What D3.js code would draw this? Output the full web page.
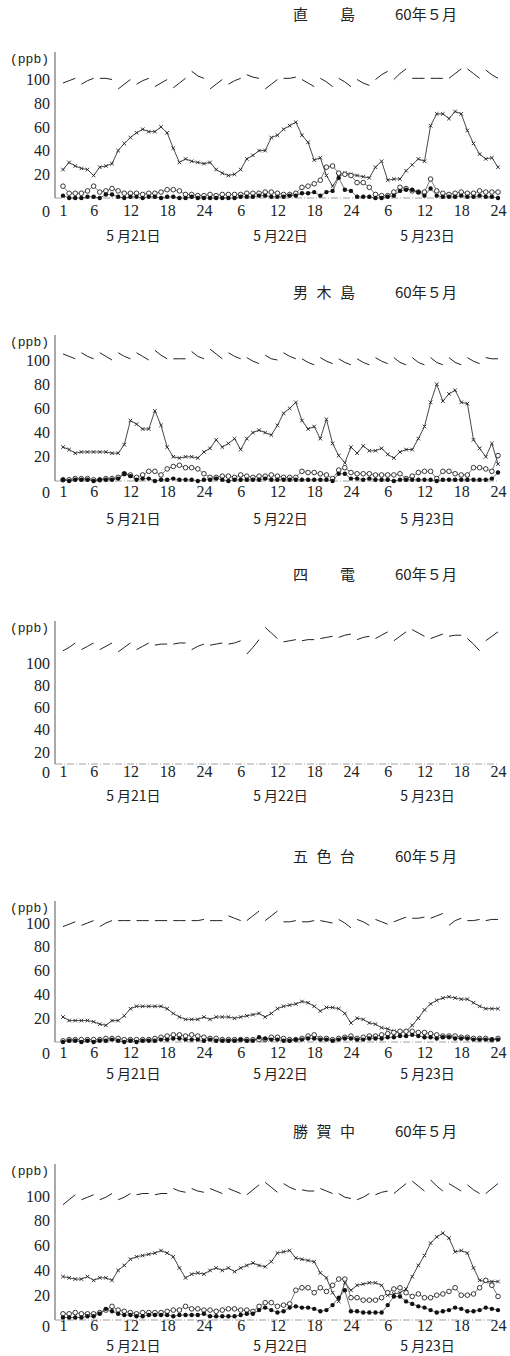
<!DOCTYPE html>
<html>
<head>
<meta charset="utf-8">
<script src="https://cdn.jsdelivr.net/npm/d3@7"></script>
<style>
    body { margin: 0; background: #fff; }
</style>
</head>
<body>
<svg id="chart" width="510" height="1356"></svg>
<script>
// hours of the three days, 5/21 01:00 .. 5/23 24:00
var hours = d3.range(1, 73);
var xTickHours = [1, 6, 12, 18, 24, 30, 36, 42, 48, 54, 60, 66, 72];
var xTickLabels = ["1", "6", "12", "18", "24", "6", "12", "18", "24", "6", "12", "18", "24"];
var yTicks = [20, 40, 60, 80, 100];
var dayLabels = ["5 月21日", "5 月22日", "5 月23日"];
var dayCenters = [12, 36, 60];
var stationNames = ["直島", "男木島", "四電", "五色台", "勝賀中"];
var monthLabel = "60年５月";

// 直島
var oxNao = [24,30,27,25,24,19,26,27,29,40,46,51, 55,58,56,56,60,55,42,30,33,31,30,29,
    30,24,21,19,20,24,33,36,40,40,51,53, 58,61,64,53,47,32,34,19,10,18,21,20,
    19,18,17,26,31,15,16,16,23,28,33,31, 61,71,71,67,73,71,57,46,37,33,34,26];
var no2Nao = [10,4,4,4,6,10,5,6,8,6,4,4, 4,3,4,4,5,7,7,6,3,3,2,2,
    3,2,3,3,3,3,4,4,4,5,5,4, 3,3,4,9,10,12,15,26,27,21,20,19,
    13,13,9,3,2,2,5,9,8,6,5,5, 16,6,4,3,4,5,4,4,6,5,5,5];
var noNao = [2,0,0,0,1,1,0,3,3,1,0,1, 1,0,1,1,0,1,1,0,0,1,0,0,
    0,0,0,0,0,1,1,1,2,2,1,1, 1,2,2,4,4,5,2,5,6,17,7,6,
    1,1,1,0,0,1,2,6,7,7,5,2, 8,2,1,1,1,2,1,1,2,1,1,0];
var topNao = [97,99,101, 96,99,101, 101,101,100, 92,96,100, 96,99,101, 94,97,100, 93,97,101, 107,103,101,
    92,96,100, 96,99,101, 104,102,101, 92,96,100, 101,101,102, 100,97,94, 101,98,94, 101,98,94,
    100,97,95, 100,104,107, 100,105,109, 101,101,101, 101,101,101, 101,105,109, 109,105,101, 108,104,101];

// 男木島
var oxOgi = [28,26,23,24,24,24,24,24,23,23,30,50, 47,43,43,58,46,28,20,19,20,20,19,24,
    27,34,28,31,35,26,35,40,42,40,38,46, 56,60,65,50,43,45,35,51,31,21,15,28,
    23,29,25,25,27,22,19,24,26,26,35,45, 65,80,66,72,75,65,64,34,27,20,31,14];
var no2Ogi = [1,1,2,2,2,1,1,2,2,3,6,5, 3,5,8,8,5,10,12,13,11,11,10,6,
    3,3,4,4,3,5,4,3,4,4,5,4, 3,3,3,8,7,7,6,5,2,9,11,7,
    6,6,6,5,5,5,5,6,2,4,7,8, 8,2,8,8,6,5,5,11,11,10,8,21];
var noOgi = [1,0,1,1,1,0,1,1,1,2,6,4, 1,2,2,0,1,1,2,1,1,1,0,1,
    1,2,1,0,1,1,1,1,1,2,1,1, 1,1,1,1,1,1,1,1,0,6,6,2,
    2,1,2,1,1,1,0,1,1,1,1,1, 1,0,1,1,1,1,1,1,1,1,2,7];
var topOgi = [105,103,101, 106,103,101, 106,103,100, 106,103,101, 106,103,100, 108,104,101, 101,101,101, 107,103,101,
    109,105,101, 106,103,101, 102,99,97, 104,101,100, 106,103,101, 101,98,96, 102,99,97, 101,98,96,
    101,98,96, 102,99,97, 102,98,96, 102,98,96, 102,98,96, 102,98,96, 102,99,97, 102,101,101];

// 四電 (only the top trace)
var topYon = [111,114,118, 112,115,118, 112,115,118, 110,114,118, 112,115,118, 116,117,117, 117,118,118, 112,115,117,
    116,117,118, 117,118,120, 108,114,121, 132,127,122, 119,120,121, 120,121,121, 122,123,124, 123,125,126,
    121,123,124, 122,125,128, 120,124,128, 130,127,124, 122,124,126, 124,125,125, 122,117,111, 120,124,128];

// 五色台
var oxGos = [21,18,18,18,18,17,15,14,18,18,22,28, 30,30,30,30,30,28,24,21,19,19,19,21,
    19,21,21,21,20,21,22,23,24,21,24,28, 30,31,32,34,33,30,26,29,29,28,24,16,
    20,19,16,15,12,11,9,8,9,14,20,27, 32,35,37,38,37,36,36,33,30,28,28,28];
var no2Gos = [1,2,2,2,2,2,2,3,3,3,2,2, 2,2,2,3,4,5,6,6,5,6,5,4,
    3,3,2,2,2,2,2,2,2,2,4,4, 3,2,2,3,5,6,3,3,2,3,4,5,
    3,4,5,5,6,7,8,9,9,9,8,8, 7,6,5,5,5,4,4,3,3,3,2,3];
var noGos = [0,1,1,0,1,0,1,1,2,1,0,1, 0,1,1,1,2,2,3,3,2,2,2,1,
    2,1,1,1,1,2,1,1,4,3,2,2, 1,1,2,2,3,3,2,2,1,2,3,3,
    2,2,3,3,3,4,4,5,5,6,5,4, 4,3,4,4,3,3,3,2,2,2,2,2];
var topGos = [97,99,101, 98,100,102, 97,100,102, 102,102,102, 102,102,102, 102,102,102, 102,102,102, 102,102,103,
    102,102,102, 106,104,102, 102,106,110, 102,106,110, 101,101,102, 101,101,102, 102,101,100, 103,100,96,
    103,101,98, 103,101,99, 101,103,105, 104,104,105, 104,106,108, 98,102,104, 102,102,103, 102,103,103];

// 勝賀中
var oxKat = [35,34,33,33,35,32,34,34,32,40,44,49, 51,52,53,54,56,54,51,42,34,37,38,37,
    40,42,40,42,39,42,44,46,44,43,47,54, 55,56,50,49,48,47,38,34,22,15,30,24,
    28,29,30,30,28,20,21,22,25,35,44,52, 62,67,70,66,55,56,54,42,32,31,31,31];
var no2Kat = [5,5,6,5,5,5,6,8,11,8,7,6, 5,6,6,6,6,7,8,8,11,9,9,8,
    8,7,8,9,9,8,8,7,11,14,14,11, 12,13,24,26,26,22,26,23,28,33,33,18,
    18,16,16,16,18,22,25,26,22,19,21,18, 18,20,21,23,26,20,20,21,26,32,28,19];
var noKat = [2,2,2,2,3,3,5,9,7,5,4,4, 3,3,4,4,4,4,3,4,4,4,4,5,
    3,3,3,3,3,4,5,5,8,10,8,6, 7,10,11,10,10,9,7,8,12,18,24,7,
    7,6,6,6,6,12,19,19,15,13,11,10, 8,6,7,8,10,9,7,7,8,10,9,8];
var topKat = [93,97,101, 97,99,101, 97,99,102, 97,99,102, 101,102,102, 101,102,102, 106,104,103, 106,104,103,
    106,104,102, 106,104,102, 101,105,109, 111,107,103, 110,107,105, 105,104,104, 106,104,102, 102,99,98,
    97,99,102, 101,103,104, 102,106,110, 112,108,104, 113,108,104, 110,107,104, 109,105,102, 102,106,110];

(function () {
    var svg = d3.select("#chart");

    var serif = "'Liberation Serif', 'DejaVu Serif', serif";
    var cjk = "'Noto Sans CJK JP', 'Noto Sans CJK SC', sans-serif";

    // layout of each panel (pixel positions), data comes from the arrays above
    var panels = [
        { name: stationNames[0], ox: oxNao, no2: no2Nao, no: noNao, top: topNao,
          titleY: 15, ppbY: 58, yDomain: [0, 100], yRange: [198, 79.5], xLabY: 211, dateY: 236 },
        { name: stationNames[1], ox: oxOgi, no2: no2Ogi, no: noOgi, top: topOgi,
          titleY: 293, ppbY: 341, yDomain: [0, 100], yRange: [481, 360], xLabY: 492, dateY: 519 },
        { name: stationNames[2], ox: null, no2: null, no: null, top: topYon,
          titleY: 575, ppbY: 627, yDomain: [0, 20, 100], yRange: [764, 752, 663], xLabY: 772, dateY: 796 },
        { name: stationNames[3], ox: oxGos, no2: no2Gos, no: noGos, top: topGos,
          titleY: 857, ppbY: 907, yDomain: [0, 100], yRange: [1042, 923], xLabY: 1053, dateY: 1074 },
        { name: stationNames[4], ox: oxKat, no2: no2Kat, no: noKat, top: topKat,
          titleY: 1132, ppbY: 1170, yDomain: [0, 100], yRange: [1320, 1196], xLabY: 1326, dateY: 1346 }
    ];

    var x = d3.scaleLinear().domain([1, 72]).range([63, 498]);
    var axisX = 55;

    panels.forEach(function (p) {
        var y = d3.scaleLinear().domain(p.yDomain).range(p.yRange);
        var g = svg.append("g");

        // title
        g.append("text")
            .attr("x", 293)
            .attr("y", p.titleY)
            .attr("dy", "0.36em")
            .attr("textLength", 62)
            .attr("lengthAdjust", "spacing")
            .style("font-family", cjk)
            .style("font-size", "15px")
            .attr("fill", "#222")
            .text(p.name);
        g.append("text")
            .attr("x", 395)
            .attr("y", p.titleY)
            .attr("dy", "0.36em")
            .attr("textLength", 62)
            .attr("lengthAdjust", "spacingAndGlyphs")
            .style("font-family", cjk)
            .style("font-size", "15px")
            .attr("fill", "#222")
            .text(monthLabel);

        // unit
        g.append("text")
            .attr("x", 10)
            .attr("y", p.ppbY)
            .attr("dy", "0.35em")
            .style("font-family", "'Liberation Mono', 'DejaVu Sans Mono', monospace")
            .style("font-size", "13px")
            .attr("fill", "#222")
            .text("(ppb)");

        // y axis line
        g.append("line")
            .attr("x1", axisX).attr("x2", axisX)
            .attr("y1", p.ppbY - 6).attr("y2", y(0))
            .attr("stroke", "#444")
            .attr("stroke-width", 0.9);

        var gy = g.append("g")
            .attr("transform", "translate(" + axisX + ",0)")
            .call(d3.axisLeft(y).tickValues(yTicks).tickSize(0).tickPadding(5));
        gy.select(".domain").remove();
        gy.selectAll("text")
            .style("font-family", serif)
            .style("font-size", "16px")
            .attr("fill", "#222");

        // the "0" sits on the hour label row
        g.append("text")
            .attr("x", 50)
            .attr("y", p.xLabY)
            .attr("dy", "0.35em")
            .attr("text-anchor", "end")
            .style("font-family", serif)
            .style("font-size", "16px")
            .attr("fill", "#222")
            .text("0");

        // hour labels
        var gx = g.append("g")
            .attr("transform", "translate(0," + (p.xLabY - 6) + ")")
            .call(d3.axisBottom(x).tickValues(xTickHours)
                .tickFormat(function (d, i) { return xTickLabels[i]; })
                .tickSize(0).tickPadding(0));
        gx.select(".domain").remove();
        gx.selectAll("text")
            .style("font-family", serif)
            .style("font-size", "16px")
            .attr("fill", "#222");

        // date labels
        g.selectAll(".date")
            .data(dayLabels)
            .enter()
            .append("text")
            .attr("x", function (d, i) { return x(dayCenters[i]) + 3; })
            .attr("y", p.dateY)
            .attr("dy", "0.36em")
            .attr("text-anchor", "middle")
            .style("font-family", cjk)
            .style("font-size", "14px")
            .attr("fill", "#222")
            .text(function (d) { return d; });

        // baseline (dash-dot)
        g.append("line")
            .attr("x1", axisX).attr("x2", x(72))
            .attr("y1", y(0)).attr("y2", y(0))
            .attr("stroke", "#888")
            .attr("stroke-width", 0.8)
            .attr("stroke-dasharray", "7,2,1,2");

        var line = d3.line()
            .x(function (d) { return x(d[0]); })
            .y(function (d) { return y(d[1]); });

        // top trace, drawn as short strokes of three hourly points
        var segs = d3.range(0, 72, 3).map(function (s) {
            return [s, s + 1, s + 2].map(function (i) { return [hours[i], p.top[i]]; });
        });
        g.selectAll(".top")
            .data(segs)
            .enter()
            .append("path")
            .attr("d", line)
            .attr("fill", "none")
            .attr("stroke", "#222")
            .attr("stroke-width", 1);

        if (!p.ox) return;

        function pts(vals) {
            return hours.map(function (h, i) { return [h, vals[i]]; });
        }

        // Ox: thin line with small crosses
        g.append("path")
            .attr("d", line(pts(p.ox)))
            .attr("fill", "none")
            .attr("stroke", "#333")
            .attr("stroke-width", 0.9);
        g.selectAll(".oxm")
            .data(pts(p.ox))
            .enter()
            .append("path")
            .attr("transform", function (d) { return "translate(" + x(d[0]) + "," + y(d[1]) + ")"; })
            .attr("d", "M-1.8,-1.8L1.8,1.8M-1.8,1.8L1.8,-1.8")
            .attr("stroke", "#222")
            .attr("stroke-width", 0.9);

        // NO2: open circles
        g.append("path")
            .attr("d", line(pts(p.no2)))
            .attr("fill", "none")
            .attr("stroke", "#444")
            .attr("stroke-width", 0.7);
        g.selectAll(".no2m")
            .data(pts(p.no2))
            .enter()
            .append("circle")
            .attr("cx", function (d) { return x(d[0]); })
            .attr("cy", function (d) { return y(d[1]); })
            .attr("r", 2.3)
            .attr("fill", "#fff")
            .attr("stroke", "#222")
            .attr("stroke-width", 0.9);

        // NO: filled circles
        g.append("path")
            .attr("d", line(pts(p.no)))
            .attr("fill", "none")
            .attr("stroke", "#333")
            .attr("stroke-width", 0.7);
        g.selectAll(".nom")
            .data(pts(p.no))
            .enter()
            .append("circle")
            .attr("cx", function (d) { return x(d[0]); })
            .attr("cy", function (d) { return y(d[1]); })
            .attr("r", 2.2)
            .attr("fill", "#111");
    });
})();
</script>
</body>
</html>
